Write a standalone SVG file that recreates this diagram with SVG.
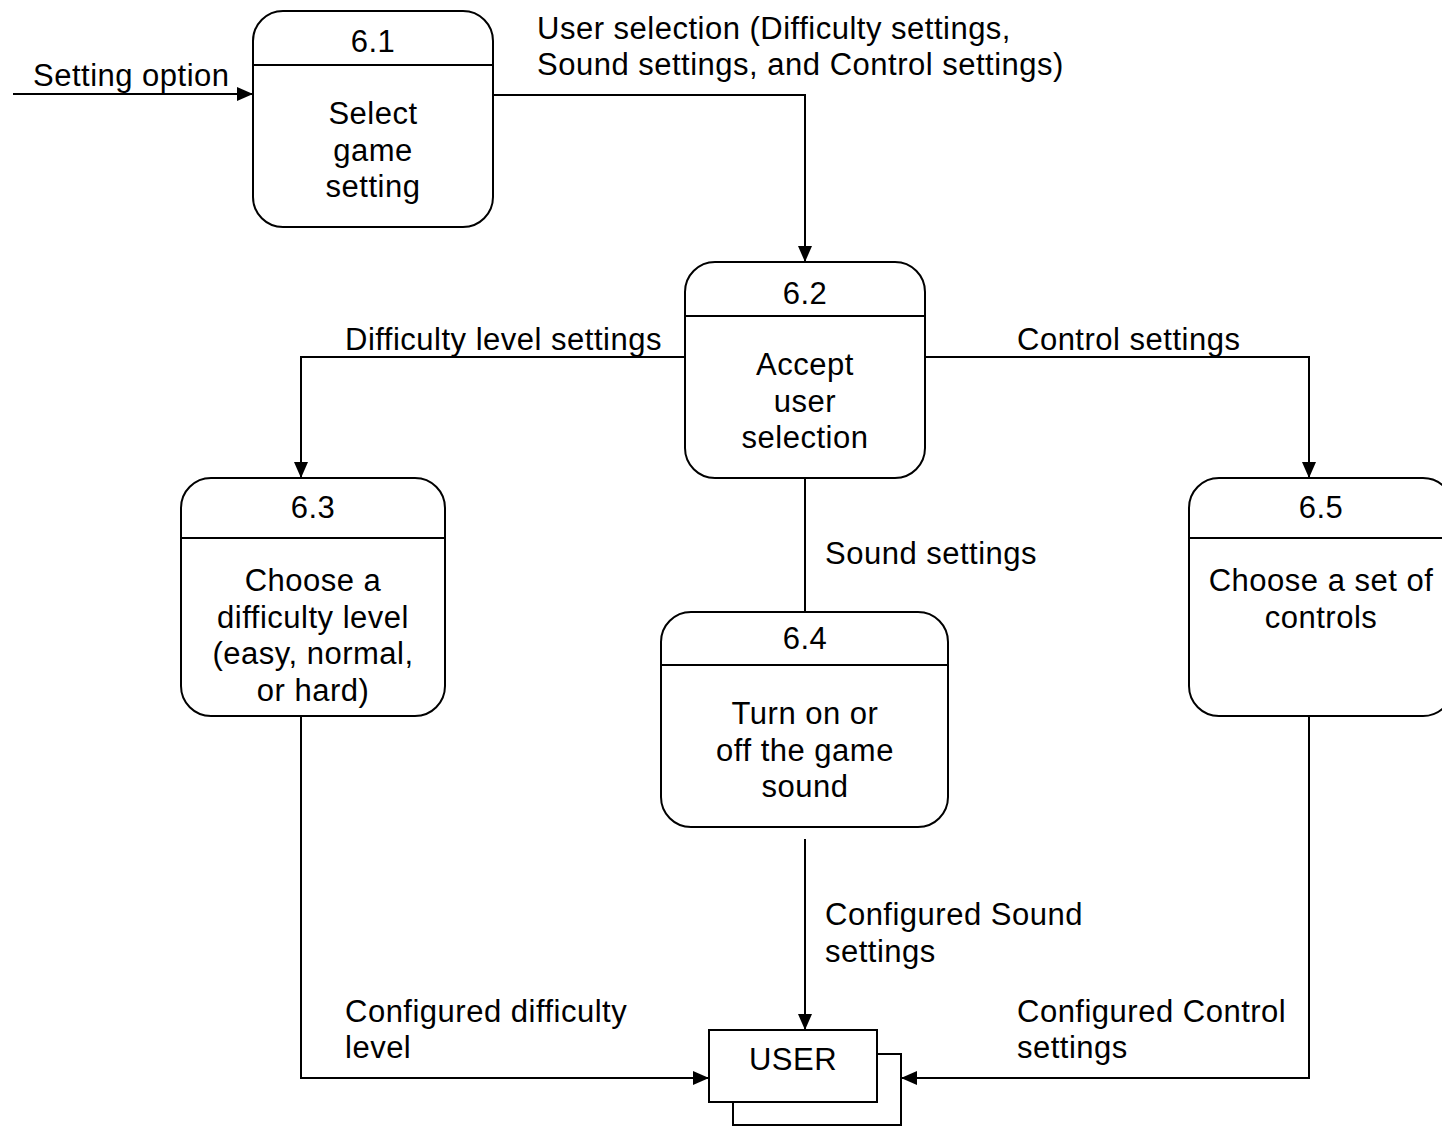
<svg xmlns="http://www.w3.org/2000/svg" width="1442" height="1126" viewBox="0 0 1442 1126">
<style>
  text { font-family: "Liberation Sans", Arial, sans-serif; font-size: 31px; letter-spacing: 0.5px; fill: #000; }
  .c { text-anchor: middle; }
  .box { fill: #fff; stroke: #000; stroke-width: 2; }
  .ln { fill: none; stroke: #000; stroke-width: 2; }
</style>
<defs>
  <marker id="arr" viewBox="0 0 16 14" refX="16" refY="7" markerWidth="16" markerHeight="14" markerUnits="userSpaceOnUse" orient="auto">
    <path d="M0,0 L16,7 L0,14 Z" fill="#000"/>
  </marker>
</defs>
<rect width="1442" height="1126" fill="#fff"/>

<g id="connectors">
  <line class="ln" x1="13" y1="94" x2="253" y2="94" marker-end="url(#arr)"/>
  <polyline class="ln" points="493,95 805,95 805,262" marker-end="url(#arr)"/>
  <polyline class="ln" points="685,357 301,357 301,478" marker-end="url(#arr)"/>
  <polyline class="ln" points="925,357 1309,357 1309,478" marker-end="url(#arr)"/>
  <line class="ln" x1="805" y1="478" x2="805" y2="612"/>
  <line class="ln" x1="805" y1="839" x2="805" y2="1030" marker-end="url(#arr)"/>
  <polyline class="ln" points="301,716 301,1078 709,1078" marker-end="url(#arr)"/>
  <polyline class="ln" points="1309,716 1309,1078 901,1078" marker-end="url(#arr)"/>
  <text x="33" y="86">Setting option</text>
  <text x="537" y="39">User selection (Difficulty settings,</text>
  <text x="537" y="75">Sound settings, and Control settings)</text>
  <text x="345" y="350">Difficulty level settings</text>
  <text x="1017" y="350">Control settings</text>
  <text x="825" y="564">Sound settings</text>
  <text x="825" y="925">Configured Sound</text>
  <text x="825" y="962">settings</text>
  <text x="345" y="1022">Configured difficulty</text>
  <text x="345" y="1058">level</text>
  <text x="1017" y="1022">Configured Control</text>
  <text x="1017" y="1058">settings</text>
</g>

<g id="node-6-1">
  <rect class="box" x="253" y="11" width="240" height="216" rx="30" ry="30"/>
  <line class="ln" x1="253" y1="65" x2="493" y2="65"/>
  <text class="c" x="373" y="52">6.1</text>
  <text class="c" x="373" y="124">Select</text>
  <text class="c" x="373" y="161">game</text>
  <text class="c" x="373" y="197">setting</text>
</g>

<g id="node-6-2">
  <rect class="box" x="685" y="262" width="240" height="216" rx="30" ry="30"/>
  <line class="ln" x1="685" y1="316" x2="925" y2="316"/>
  <text class="c" x="805" y="304">6.2</text>
  <text class="c" x="805" y="375">Accept</text>
  <text class="c" x="805" y="412">user</text>
  <text class="c" x="805" y="448">selection</text>
</g>

<g id="node-6-3">
  <rect class="box" x="181" y="478" width="264" height="238" rx="30" ry="30"/>
  <line class="ln" x1="181" y1="538" x2="445" y2="538"/>
  <text class="c" x="313" y="518">6.3</text>
  <text class="c" x="313" y="591">Choose a</text>
  <text class="c" x="313" y="628">difficulty level</text>
  <text class="c" x="313" y="664">(easy, normal,</text>
  <text class="c" x="313" y="701">or hard)</text>
</g>

<g id="node-6-4">
  <rect class="box" x="661" y="612" width="287" height="215" rx="30" ry="30"/>
  <line class="ln" x1="661" y1="665" x2="948" y2="665"/>
  <text class="c" x="805" y="649">6.4</text>
  <text class="c" x="805" y="724">Turn on or</text>
  <text class="c" x="805" y="761">off the game</text>
  <text class="c" x="805" y="797">sound</text>
</g>

<g id="node-6-5">
  <rect class="box" x="1189" y="478" width="264" height="238" rx="30" ry="30"/>
  <line class="ln" x1="1189" y1="538" x2="1453" y2="538"/>
  <text class="c" x="1321" y="518">6.5</text>
  <text class="c" x="1321" y="591">Choose a set of</text>
  <text class="c" x="1321" y="628">controls</text>
</g>

<g id="node-user">
  <rect class="box" x="733" y="1054" width="168" height="71"/>
  <rect class="box" x="709" y="1030" width="168" height="72"/>
  <text class="c" x="793" y="1070">USER</text>
</g>
</svg>
